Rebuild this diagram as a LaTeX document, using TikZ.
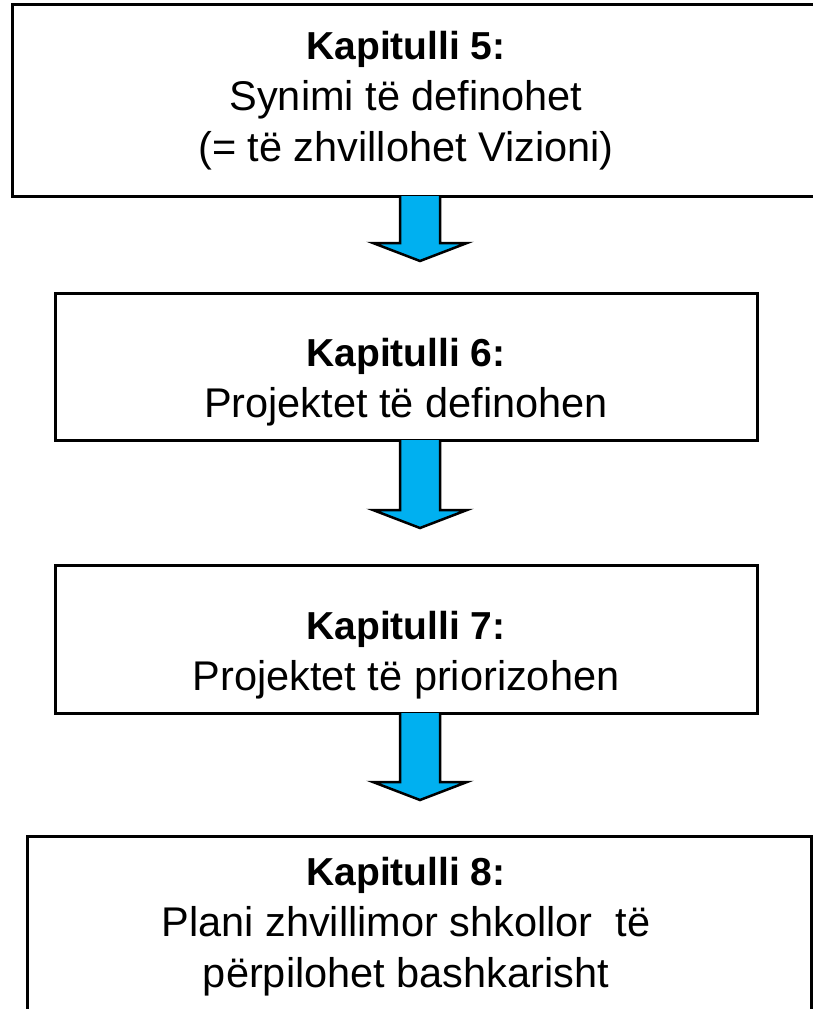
\documentclass[tikz,border=0pt]{standalone}
\usepackage{fontspec}
\setmainfont{Liberation Sans}
\definecolor{arrowblue}{RGB}{0,176,240}
\newcommand{\kap}[1]{{\fontsize{39}{51}\selectfont\bfseries #1}}
\begin{document}
\begin{tikzpicture}[x=1pt,y=-1pt,
  frame/.style={draw=black,line width=3pt,fill=white,inner sep=0pt},
  txt/.style={align=center,font=\fontsize{41.5}{51}\selectfont,inner sep=0pt},
  arr/.style={draw=black,line width=2.5pt,fill=arrowblue,line join=miter}]
\useasboundingbox (0,0) rectangle (813,1009);
\begin{scope}
\clip (0,0) rectangle (813,1009);
% boxes
\node[frame,minimum width=805pt,minimum height=192pt] (b1) at (414.5,100) {};
\node[frame,minimum width=702pt,minimum height=147pt] (b2) at (406,366.5) {};
\node[frame,minimum width=702pt,minimum height=148pt] (b3) at (406,639) {};
\node[frame,minimum width=784pt,minimum height=190pt] (b4) at (419.5,931) {};
% arrows
\draw[arr] (400,196) -- (400,243) -- (373,243) -- (420,261) -- (467,243) -- (440,243) -- (440,196);
\draw[arr] (400,440) -- (400,510) -- (373,510) -- (420,528) -- (467,510) -- (440,510) -- (440,440);
\draw[arr] (400,713) -- (400,782) -- (373,782) -- (420,800) -- (467,782) -- (440,782) -- (440,713);
\end{scope}
% texts
\node[txt] (t1) at (406,101) {\kap{Kapitulli 5:}\\Synimi të definohet\\(= të zhvillohet Vizioni)};
\node[txt] (t2) at (406,382) {\kap{Kapitulli 6:}\\Projektet të definohen};
\node[txt] (t3) at (406,655) {\kap{Kapitulli 7:}\\Projektet të priorizohen};
\node[txt] (t4) at (406,927) {\kap{Kapitulli 8:}\\Plani zhvillimor shkollor\ \ të\\përpilohet bashkarisht};
\end{tikzpicture}
\end{document}
